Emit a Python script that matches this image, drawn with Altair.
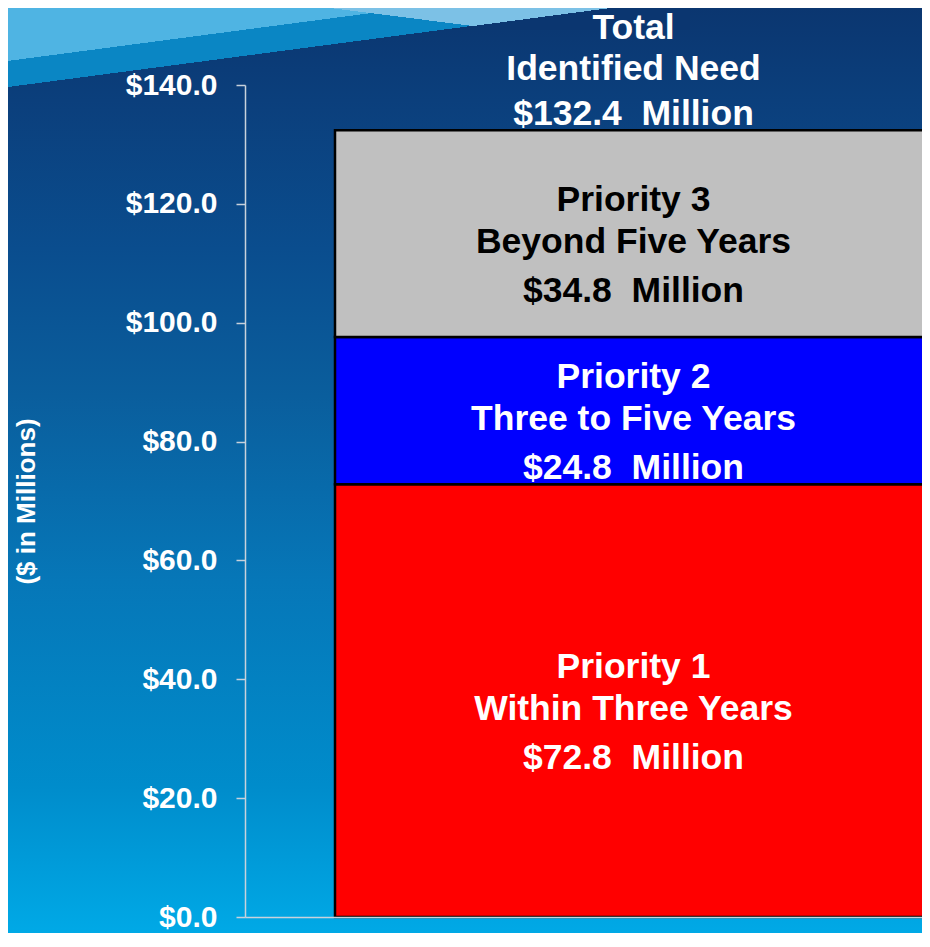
import altair as alt
import pandas as pd

# ---------------- data ----------------
priorities = ["Priority 1", "Priority 2", "Priority 3"]
timeframes = ["Within Three Years", "Three to Five Years", "Beyond Five Years"]
amounts = [72.8, 24.8, 34.8]          # $ millions
total_lines = ["Total", "Identified Need"]
total_value = 132.4
y_ticks = [0, 20, 40, 60, 80, 100, 120, 140]
axis_title = "($ in Millions)"
category = ["Need"]

# ---------------- styles ----------------
bar_colors = ["#ff0000", "#0000ff", "#c0c0c0"]
FONT = "Liberation Sans"
AXIS_COL = "#c8d2dc"
W, H = 677, 832
X_END = W + 10          # band range runs a little past the visible edge
PAD = {"left": 237, "top": 77, "right": 0, "bottom": 16}
NAVY = "#0b3670"
CLEAR = "rgba(255,255,255,0)"

# ---------------- tables ----------------
hi, run = [], 0.0
for v in amounts:
    run += v
    hi.append(round(run, 1))
lo = [round(h - v, 1) for h, v in zip(hi, amounts)]
seg = pd.DataFrame({
    "cat": category * len(priorities),
    "priority": priorities,
    "timeframe": timeframes,
    "lo": lo,
    "hi": hi,
    "mid": [(a + b) / 2 for a, b in zip(lo, hi)],
    "amount": [f"${v:.1f}\u00a0 Million" for v in amounts],
})
tot = pd.DataFrame({
    "cat": category,
    "total": [total_value],
    "l1": [total_lines[0]],
    "l2": [total_lines[1]],
    "l3": [f"${total_value:.1f}\u00a0 Million"],
})
one = pd.DataFrame({"k": [0]})

step_pad = (X_END / (X_END - 90) - 1) / 2
xscale = alt.Scale(domain=category, range=[0, X_END], paddingInner=0,
                   paddingOuter=step_pad, align=1)
yscale = alt.Scale(domain=[0, 140], nice=False, zero=True)


def grad(stops, x1, y1, x2, y2):
    return alt.LinearGradient(
        gradient="linear",
        stops=[alt.GradientStop(color=c, offset=o) for o, c in stops],
        x1=x1, y1=y1, x2=x2, y2=y2,
    )


def deco_rect(fill, x0, x1, y0, y1):
    return alt.Chart(one).mark_rect(color=fill).encode(
        x=alt.value(x0), x2=alt.value(x1), y=alt.value(y0), y2=alt.value(y1))


# ---------------- background ----------------
bg = deco_rect(grad([(0.0, NAVY), (0.10, "#0b3f7c"), (0.26, "#0a4d8e"), (0.42, "#0a5e9d"),
                     (0.62, "#0677b8"), (0.84, "#008ccb"), (1.0, "#00a9e6")], 0, 0, 0, 1),
               -PAD["left"], W + 5, -PAD["top"], H + PAD["bottom"])

# decorative swoosh in the top-left corner (diagonal hard-stop gradients)
swoosh_ab = deco_rect(grad([(0.0, "#4fb4e3"), (0.304, "#4fb4e3"), (0.304, "#0a86c4"),
                            (0.454, "#0a86c4"), (0.454, CLEAR), (1.0, CLEAR)],
                           0, 0, 0.9418, 0.6637),
                      -237, 700, -77, 10)
swoosh_c = deco_rect(grad([(0.0, CLEAR), (0.405, CLEAR), (0.405, "#7cc1e6"), (1.0, "#7cc1e6")],
                          0, 1, 1.207, 0.510),
                     15, 445, -77, -55)
swoosh_b = deco_rect(grad([(0.0, CLEAR), (0.586, CLEAR), (0.586, NAVY), (1.0, NAVY)],
                          0, 0, 1.2065, 0.4709),
                     15, 445, -77, -55)

# ---------------- bars + axes ----------------
bars = alt.Chart(seg).mark_bar(stroke="black", strokeWidth=2.5).encode(
    x=alt.X("cat:N", scale=xscale,
            axis=alt.Axis(labels=False, ticks=False, title=None, domainColor=AXIS_COL,
                          domainWidth=1.5, zindex=1)),
    y=alt.Y("lo:Q", scale=yscale,
            axis=alt.Axis(values=y_ticks, labelExpr="'$' + format(datum.value, '.1f')",
                          labelFont=FONT, labelFontWeight="bold", labelFontSize=30,
                          labelColor="white", labelPadding=19, tickSize=9,
                          tickColor=AXIS_COL, tickWidth=1.5, domainColor=AXIS_COL,
                          domainWidth=1.5, grid=False, title=axis_title,
                          titleFont=FONT, titleFontSize=26, titleFontWeight="bold",
                          titleColor="white", titleX=-219, titleY=416,
                          titleAlign="center", titleBaseline="middle",
                          labelOverlap=False, zindex=1)),
    y2="hi:Q",
    color=alt.Color("priority:N", scale=alt.Scale(domain=priorities, range=bar_colors), legend=None),
)


def seg_text(field, dy):
    return alt.Chart(seg).mark_text(font=FONT, fontWeight="bold", fontSize=35.5,
                                    baseline="middle", align="center", dy=dy).encode(
        x=alt.X("cat:N", scale=xscale, title=None),
        y=alt.Y("mid:Q", scale=yscale, title=axis_title),
        text=f"{field}:N",
        color=alt.condition("datum.priority == 'Priority 3'", alt.value("black"), alt.value("white")),
    )


def tot_text(field, dy):
    return alt.Chart(tot).mark_text(font=FONT, fontWeight="bold", fontSize=35.5,
                                    baseline="middle", align="center", dy=dy,
                                    color="white").encode(
        x=alt.X("cat:N", scale=xscale, title=None),
        y=alt.Y("total:Q", scale=yscale, title=axis_title),
        text=f"{field}:N",
    )


layers = [bg, swoosh_ab, swoosh_c, swoosh_b,
          bars,
          seg_text("priority", -34), seg_text("timeframe", 8), seg_text("amount", 57),
          tot_text("l1", -102), tot_text("l2", -61), tot_text("l3", -16)]

chart = alt.layer(*layers).properties(
    width=W, height=H,
    autosize=alt.AutoSizeParams(type="none"),
    padding=PAD,
).configure_view(stroke=None).resolve_scale(color="independent")

chart.save("out.html", embed_options={"renderer": "svg", "actions": False})
